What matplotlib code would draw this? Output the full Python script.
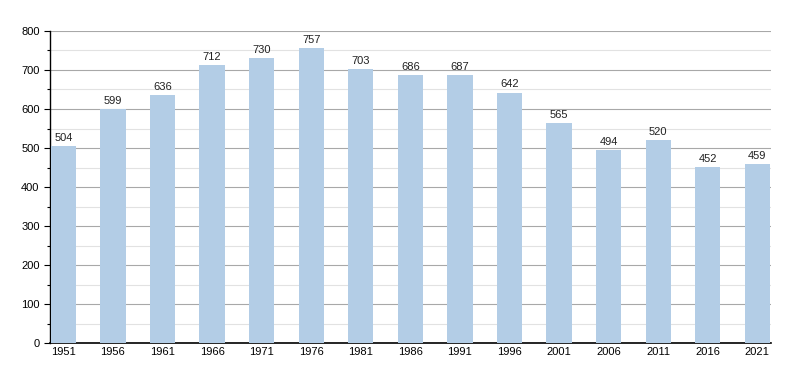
import matplotlib
matplotlib.use("Agg")
import matplotlib.pyplot as plt
import numpy as np

years = ["1951", "1956", "1961", "1966", "1971", "1976", "1981", "1986",
         "1991", "1996", "2001", "2006", "2011", "2016", "2021"]
population = [504, 599, 636, 712, 730, 757, 703, 686, 687, 642, 565, 494, 520, 452, 459]

plt.rcParams['font.family'] = ['Liberation Sans', 'DejaVu Sans']
plt.rcParams['font.size'] = 8

fig = plt.figure(figsize=(8, 3.73), dpi=100)
ax = fig.add_axes([0.0625, 0.0804, 0.9015, 0.8365])

x = np.arange(len(years))
ax.bar(x, population, width=0.51, color="#b3cde6", zorder=3)
for xi, v in zip(x, population):
    ax.text(xi, v + 8, str(v), ha="center", va="bottom", fontsize=8, color="#222222", zorder=4)

ax.set_xlim(-0.27, len(years) - 1 + 0.28)
ax.set_ylim(0, 800)
ax.set_xticks(x)
ax.set_xticklabels(years)
ax.set_yticks(np.arange(0, 801, 100))
ax.set_yticks(np.arange(50, 800, 100), minor=True)
ax.grid(axis="y", which="major", color="#a8a8a8", linewidth=0.8, zorder=0)
ax.grid(axis="y", which="minor", color="#e2e2e2", linewidth=0.8, zorder=0)
ax.tick_params(axis="x", length=0, pad=3)
ax.tick_params(axis="y", which="major", length=4, width=0.8, direction="out")
ax.tick_params(axis="y", which="minor", length=2, width=0.8, direction="out")

for s in ["top", "right"]:
    ax.spines[s].set_visible(False)
ax.spines["left"].set_linewidth(1)
ax.spines["bottom"].set_linewidth(1.2)

fig.savefig("out.png", dpi=100)
